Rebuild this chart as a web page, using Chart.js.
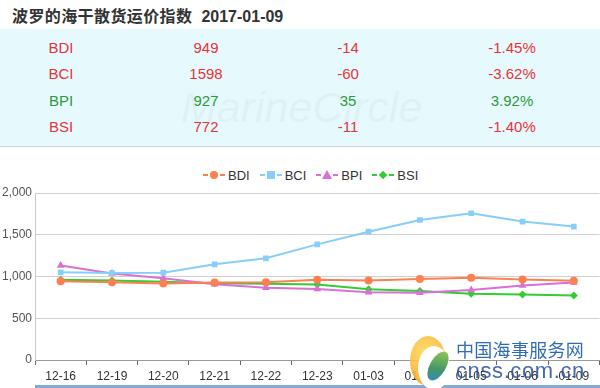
<!DOCTYPE html>
<html>
<head>
<meta charset="utf-8">
<script src="https://cdn.jsdelivr.net/npm/chart.js@4.4.0/dist/chart.umd.min.js"></script>
<style>
  html, body { margin: 0; padding: 0; background: #fff; overflow: hidden; }
  body { width: 600px; height: 388px; position: relative; font-family: "Liberation Sans", Arial, sans-serif; }
  #title { position: absolute; left: 12px; top: 3px; font-size: 16px; font-weight: bold; color: #333; white-space: nowrap; }
  #title .cn { font-family: "Noto Sans CJK SC", sans-serif; letter-spacing: 0.4px; }
  #title .date { margin-left: 9px; font-family: "Liberation Sans", Arial, sans-serif; }
  #panel { position: absolute; left: 0; top: 29px; width: 600px; height: 117px; background: #e6f9fc; border-bottom: 1px solid #c9d3d6; overflow: hidden; }
  #mark { position: absolute; left: 181px; top: 54px; font-size: 43px; font-style: italic; color: rgba(170, 185, 190, 0.13); white-space: nowrap; }
  .cell { position: absolute; font-size: 15px; transform: translateX(-50%); white-space: nowrap; }
  #legend { position: absolute; left: 203px; top: 168px; height: 14px; display: flex; align-items: center; font-size: 13px; color: #333; }
  .item { display: flex; align-items: center; margin-right: 10px; }
  .icon { position: relative; width: 22px; height: 12px; margin-right: 3px; }
  .icon .l { position: absolute; top: 5px; height: 2px; width: 5px; }
  .icon .m { position: absolute; }
  #chartBox { position: absolute; left: 0; top: 150px; width: 604px; height: 238px; }
  #bar { position: absolute; left: 35px; top: 385px; width: 565px; height: 3px; background: #86a9d2; }
  #cnss { position: absolute; left: 456px; top: 338px; color: #2f6cb4; white-space: nowrap; }
  #cnss .a { font-family: "Noto Sans CJK SC", sans-serif; font-size: 18px; line-height: 22px; letter-spacing: 0.3px; }
  #cnss .b { font-size: 22px; line-height: 22px; letter-spacing: 0.6px; color: rgba(40, 80, 150, 0.85); }
  #logo1 { position: absolute; left: 410px; top: 336px; width: 36px; height: 50px; border-radius: 50%; background: radial-gradient(circle at 40% 30%, #ffd75a, #f0a020); opacity: 0.9; }
  #logo2 { position: absolute; left: 418px; top: 346px; width: 32px; height: 44px; border-radius: 50%; background: #fff; }
  #logo3 { position: absolute; left: 430px; top: 350px; width: 16px; height: 32px; border-radius: 50%; background: linear-gradient(160deg, #8cc63f, #2e8b57 60%, #1f78c8); transform: rotate(30deg); opacity: 0.9; }
</style>
</head>
<body>
<div id="title"><span class="cn">波罗的海干散货运价指数</span><span class="date">2017-01-09</span></div>
<div id="panel"><div id="mark">MarineCircle</div></div>
<div id="legend"></div>
<div id="chartBox"><canvas id="lineChart" width="604" height="238"></canvas></div>
<div id="bar"></div>
<div id="logo1"></div><div id="logo2"></div><div id="logo3"></div>
<div id="cnss"><div class="a">中国海事服务网</div><div class="b">cnss.com.cn</div></div>
<script>
// table on top
let names = ['BDI', 'BCI', 'BPI', 'BSI'];
let latest = ['949', '1598', '927', '772'];
let change = ['-14', '-60', '35', '-11'];
let changePct = ['-1.45%', '-3.62%', '3.92%', '-1.40%'];

// chart data, 12-16 .. 01-09
let dates = ['12-16', '12-19', '12-20', '12-21', '12-22', '12-23', '01-03', '01-04', '01-05', '01-06', '01-09'];
let bdi = [943, 930, 915, 929, 930, 961, 953, 969, 984, 963, 949];
let bci = [1050, 1042, 1046, 1146, 1218, 1385, 1537, 1677, 1757, 1658, 1598];
let bpi = [1132, 1035, 978, 906, 866, 850, 811, 806, 838, 892, 927];
let bsi = [962, 952, 938, 920, 912, 905, 846, 826, 794, 783, 772];
let yTicks = [0, 500, 1000, 1500, 2000];

let colors = ['#ff7f50', '#87cefa', '#da70d6', '#32cd32'];
let shapes = ['circle', 'rect', 'triangle', 'rectRot'];

// fill the table
let panel = document.getElementById('panel');
let colX = [61, 206, 348, 512];
let rowY = [10, 36, 63, 89];
for (let i = 0; i < names.length; i++) {
    let up = change[i].charAt(0) != '-';
    let col = up ? '#2f9a3c' : '#e8333a';
    let row = [names[i], latest[i], change[i], changePct[i]];
    for (let j = 0; j < 4; j++) {
        let c = document.createElement('div');
        c.className = 'cell';
        c.style.left = colX[j] + 'px';
        c.style.top = rowY[i] + 'px';
        c.style.color = col;
        c.textContent = row[j];
        panel.appendChild(c);
    }
}

// html legend: -marker- name
function markerHtml(shape, color) {
    switch (shape) {
        case 'circle':
            return '<div class="m" style="left:7px;top:2px;width:8px;height:8px;border-radius:50%;background:' + color + '"></div>';
        case 'rect':
            return '<div class="m" style="left:7px;top:2px;width:8px;height:8px;background:' + color + '"></div>';
        case 'triangle':
            return '<div class="m" style="left:6px;top:1px;width:0;height:0;border-left:5px solid transparent;border-right:5px solid transparent;border-bottom:9px solid ' + color + '"></div>';
        default:
            return '<div class="m" style="left:8px;top:3px;width:6px;height:6px;transform:rotate(45deg);background:' + color + '"></div>';
    }
}
let legend = document.getElementById('legend');
for (let i = 0; i < names.length; i++) {
    let it = document.createElement('div');
    it.className = 'item';
    it.innerHTML = '<div class="icon">' +
        '<div class="l" style="left:0;background:' + colors[i] + '"></div>' +
        markerHtml(shapes[i], colors[i]) +
        '<div class="l" style="left:17px;background:' + colors[i] + '"></div>' +
        '</div><span>' + names[i] + '</span>';
    legend.appendChild(it);
}

let series = [bdi, bci, bpi, bsi];
let datasets = [];
for (let i = 0; i < series.length; i++) {
    datasets.push({
        label: names[i],
        data: series[i],
        borderColor: colors[i],
        backgroundColor: colors[i],
        borderWidth: 2,
        pointStyle: shapes[i],
        pointRadius: shapes[i] == 'triangle' ? 4.5 : 4,
        pointBorderWidth: 0,
        tension: 0,
        fill: false
    });
}

let config = {
    type: 'line',
    data: { labels: dates, datasets: datasets },
    options: {
        responsive: false,
        animation: false,
        layout: { padding: { top: 43, left: 0, right: 0, bottom: 0 } },
        plugins: { legend: { display: false }, tooltip: { enabled: false } },
        scales: {
            x: {
                offset: true,
                grid: { offset: true, drawOnChartArea: false, tickLength: 5, color: '#666', lineWidth: 1 },
                border: { color: '#999' },
                ticks: { color: '#333', font: { size: 12, family: 'Liberation Sans' }, maxRotation: 0, autoSkip: false, padding: 4 },
                afterFit: function (s) { s.height = 28; }
            },
            y: {
                min: yTicks[0],
                max: yTicks[yTicks.length - 1],
                afterBuildTicks: function (s) { s.ticks = yTicks.map(function (v) { return { value: v }; }); },
                grid: { color: '#d0d0d0', drawTicks: false },
                border: { color: '#c8c8c8' },
                ticks: {
                    color: '#555',
                    padding: 3,
                    font: { size: 12, family: 'Liberation Sans' },
                    callback: function (v) { return v.toLocaleString('en-US'); }
                },
                afterFit: function (s) { s.width = 35; }
            }
        }
    }
};
let lineChart = new Chart(document.getElementById('lineChart'), config);
</script>
</body>
</html>
